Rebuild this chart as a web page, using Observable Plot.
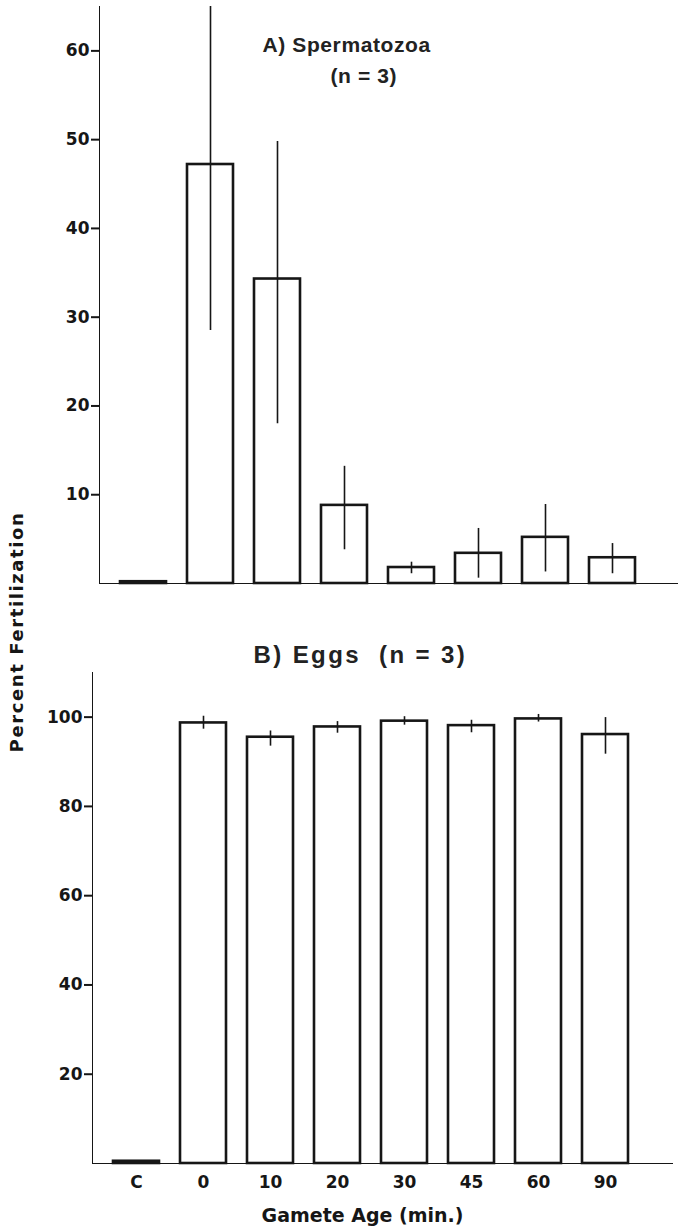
<!DOCTYPE html>
<html>
<head>
<meta charset="utf-8">
<script src="https://cdn.jsdelivr.net/npm/d3@7"></script>
<script src="https://cdn.jsdelivr.net/npm/@observablehq/plot@0.6"></script>
<style>
  html, body { margin: 0; padding: 0; background: #fff; }
  #wrap { position: relative; width: 678px; height: 1232px; }
  #ylab {
    position: absolute; left: 16px; top: 632px;
    transform: translate(-50%, -50%) rotate(-90deg);
    white-space: nowrap; font-family: "DejaVu Sans", sans-serif;
    font-weight: bold; font-size: 18px; letter-spacing: 1.6px; color: #161616;
  }
  svg { display: block; }
</style>
</head>
<body>
<div id="wrap">
  <div id="top"></div>
  <div id="bottom"></div>
  <div id="ylab">Percent Fertilization</div>
</div>
<script>
// ---- data ----
const categories = ["C", "0", "10", "20", "30", "45", "60", "90"];
const spermMean = [0.2, 47.2, 34.3, 8.8, 1.8, 3.4, 5.2, 2.9];
const spermLow  = [null, 28.5, 18.0, 3.8, 1.1, 0.6, 1.3, 1.1];
const spermHigh = [null, 65.9, 49.8, 13.2, 2.4, 6.2, 8.9, 4.5];
const eggMean = [0.5, 98.7, 95.5, 97.8, 99.1, 98.1, 99.6, 96.1];
const eggLow  = [null, 97.3, 93.5, 96.4, 98.2, 96.5, 98.9, 91.7];
const eggHigh = [null, 100.2, 96.9, 99.0, 100.1, 99.3, 100.6, 99.9];
const spermTicks = [10, 20, 30, 40, 50, 60];
const eggTicks = [20, 40, 60, 80, 100];
const titleA1 = "A) Spermatozoa";
const titleA2 = "(n = 3)";
const titleB = "B) Eggs\u00a0\u00a0(n = 3)";
const xLabel = "Gamete Age (min.)";

const sperm = categories.map((c, i) => ({cat: c, mean: spermMean[i], lo: spermLow[i], hi: spermHigh[i]}));
const eggs = categories.map((c, i) => ({cat: c, mean: eggMean[i], lo: eggLow[i], hi: eggHigh[i]}));

const ink = "#161616";
const tickFont = {fontFamily: "DejaVu Sans, sans-serif", fontSize: "17px", fontWeight: "bold"};
const titleFont = {fontFamily: "Liberation Sans, Arial, sans-serif", fontWeight: "bold", fill: "#222"};

function xScale(extra) {
  return Object.assign({domain: categories, paddingInner: 0.31, paddingOuter: 0.464, align: 0.33, tickSize: 0, line: true, label: null}, extra);
}

const topPlot = Plot.plot({
  width: 678, height: 588,
  marginLeft: 99, marginRight: 0, marginTop: 6, marginBottom: 5,
  style: {background: "transparent", color: ink, ...tickFont},
  x: xScale({tickFormat: () => ""}),
  y: {domain: [0, 65], ticks: spermTicks, tickSize: 8, tickPadding: 2, line: true, label: null},
  marks: [
    Plot.barY(sperm, {x: "cat", y: "mean", fill: "white", stroke: ink, strokeWidth: 2.6}),
    Plot.ruleX(sperm.filter(d => d.lo != null), {x: "cat", y1: "lo", y2: "hi", stroke: ink, strokeWidth: 1.6, clip: true}),
    Plot.text([titleA1], {frameAnchor: "top-left", dx: 163, dy: 39, textAnchor: "start", lineAnchor: "middle",
      fontSize: 21, ...titleFont}),
    Plot.text([titleA2], {frameAnchor: "top-left", dx: 231, dy: 70, textAnchor: "start", lineAnchor: "middle",
      fontSize: 21, ...titleFont})
  ]
});

const bottomPlot = Plot.plot({
  width: 678, height: 644,
  marginLeft: 92, marginRight: 6, marginTop: 84, marginBottom: 69,
  style: {background: "transparent", color: ink, ...tickFont},
  x: xScale({tickPadding: 12}),
  y: {domain: [0, 110], ticks: eggTicks, tickSize: 8, tickPadding: 2, line: true, label: null},
  marks: [
    Plot.barY(eggs, {x: "cat", y: "mean", fill: "white", stroke: ink, strokeWidth: 2.6}),
    Plot.ruleX(eggs.filter(d => d.lo != null), {x: "cat", y1: "lo", y2: "hi", stroke: ink, strokeWidth: 1.6}),
    Plot.text([titleB], {frameAnchor: "top-left", dx: 161, dy: -17, textAnchor: "start", lineAnchor: "middle",
      fontSize: 24, ...titleFont}),
    Plot.text([xLabel], {frameAnchor: "bottom", dx: -20, dy: 52, lineAnchor: "middle",
      fontFamily: "DejaVu Sans, sans-serif", fontSize: 19, fontWeight: "bold", fill: ink})
  ]
});

document.getElementById("top").appendChild(topPlot);
document.getElementById("bottom").appendChild(bottomPlot);

for (const svg of [topPlot, bottomPlot]) {
  d3.select(svg).selectAll('[aria-label*="axis"]').attr("stroke-width", 2);
  d3.select(svg).selectAll("text").each(function () {
    const t = this.textContent;
    if (t === titleA1 || t === titleA2) d3.select(this).style("letter-spacing", "0.6px");
    if (t === titleB) d3.select(this).style("letter-spacing", "2.4px");
  });
}
</script>
</body>
</html>
